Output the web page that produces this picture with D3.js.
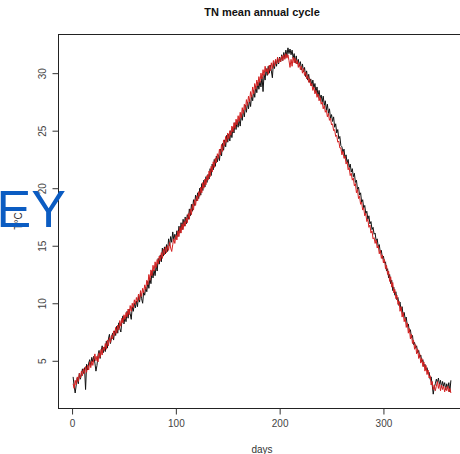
<!DOCTYPE html>
<html>
  <head>
    <script src="https://cdn.jsdelivr.net/npm/d3@7"></script>
    <style>
      body { margin: 0; background: #fff; }
      text { font-family: "Liberation Sans", Arial, sans-serif; }
    </style>
  </head>
  <body>
    <svg width="460" height="454"></svg>

    <script type="text/javascript">
      // TN mean annual cycle, one value per day (1..365)
      var blackSeries = [
        3.6, 2.8, 2.2, 2.9, 3.5, 3.0, 3.9, 3.4, 3.8, 4.3,
        3.9, 4.4, 2.5, 4.7, 4.2, 4.8, 5.1, 4.6, 5.3, 4.9,
        5.4, 4.8, 4.1, 4.6, 5.5, 5.9, 5.2, 5.8, 6.3, 5.7,
        6.2, 5.8, 6.7, 6.1, 6.9, 7.3, 6.5, 7.0, 7.4, 6.8,
        7.6, 7.2, 8.0, 7.4, 8.3, 7.8, 7.5, 8.4, 8.9, 8.2,
        8.8, 8.4, 9.3, 8.7, 9.5, 9.1, 8.6, 9.7, 9.3, 10.0,
        9.6, 10.2, 9.7, 10.6, 10.1, 10.9, 10.4, 10.0, 11.0, 10.7,
        11.4, 11.0, 11.9, 11.3, 12.2, 11.7, 12.8, 12.2, 12.9, 12.4,
        13.3, 12.8, 13.9, 13.4, 14.2, 13.6, 14.8, 14.1, 14.9, 14.3,
        15.1, 14.5, 15.6, 15.0, 15.8, 15.3, 16.2, 15.5, 16.0, 15.6,
        16.3, 15.8, 16.7, 16.1, 17.0, 16.4, 17.3, 16.7, 17.5, 16.9,
        17.7, 17.3, 18.2, 17.6, 18.6, 18.0, 19.0, 18.5, 19.4, 18.9,
        19.6, 19.1, 20.0, 19.4, 20.4, 19.8, 20.7, 20.1, 21.0, 20.5,
        21.2, 20.8, 21.7, 21.1, 22.1, 21.6, 22.5, 21.9, 22.8, 22.3,
        22.9, 22.4, 23.4, 22.8, 23.9, 23.3, 24.2, 23.6, 24.6, 24.0,
        24.7, 24.1, 25.0, 24.4, 25.3, 24.8, 25.7, 25.1, 25.9, 25.3,
        26.0, 25.4, 26.4, 25.9, 26.8, 26.2, 27.2, 26.6, 27.5, 26.9,
        27.7, 27.1, 28.1, 27.6, 28.5, 27.9, 28.9, 28.3, 29.2, 28.6,
        29.3, 28.8, 29.7, 28.4, 29.9, 29.4, 30.4, 29.8, 30.6, 30.0,
        30.7, 30.2, 29.6, 30.9, 30.4, 31.1, 30.6, 31.3, 30.8, 31.4,
        31.0, 31.6, 31.1, 31.8, 31.3, 32.0, 31.5, 32.2, 31.7, 32.1,
        31.6, 32.0, 31.3, 31.7, 30.9, 31.5, 30.8, 31.2, 30.6, 31.0,
        30.3, 30.8, 30.1, 30.5, 29.7, 30.2, 29.4, 29.9, 29.2, 29.5,
        28.9, 29.4, 28.7, 29.1, 28.3, 28.8, 28.0, 28.5, 27.8, 28.1,
        27.5, 28.0, 27.2, 27.6, 26.8, 27.3, 26.5, 26.9, 26.1, 26.4,
        25.8, 26.2, 25.3, 25.6, 24.8, 25.1, 24.3, 24.5, 23.7, 23.6,
        23.1, 23.4, 22.6, 22.9, 22.2, 22.5, 21.8, 22.1, 21.4, 21.7,
        21.0, 21.3, 20.5, 20.7, 19.9, 20.1, 19.4, 19.6, 18.8, 19.0,
        18.3, 18.5, 17.8, 18.0, 17.3, 17.6, 16.9, 17.1, 16.4, 16.6,
        16.0, 16.1, 15.4, 15.6, 14.9, 15.1, 14.4, 14.6, 13.9, 14.1,
        13.5, 13.6, 12.8, 13.0, 12.2, 12.5, 11.7, 12.0, 11.1, 11.4,
        10.7, 11.0, 10.3, 10.5, 9.8, 10.1, 9.4, 9.7, 8.9, 9.2,
        8.6, 8.8, 8.0, 8.2, 7.5, 7.7, 7.0, 7.2, 6.4, 6.6,
        6.1, 6.3, 5.7, 5.9, 5.3, 5.5, 4.9, 5.1, 4.5, 4.7,
        4.2, 4.4, 3.9, 4.0, 3.4, 3.6, 2.9, 2.1, 2.7, 3.0,
        3.4, 3.1, 3.5, 2.9, 3.3, 2.7, 3.2, 2.8, 3.1, 2.5,
        3.0, 2.6, 3.1, 2.3, 3.3
      ];

      var redSeries = [
        3.0, 2.6, 3.3, 2.9, 3.6, 3.2, 3.9, 3.5, 4.1, 3.7,
        4.3, 3.9, 4.5, 4.0, 4.6, 4.2, 4.9, 4.4, 5.0, 4.6,
        5.2, 5.6, 5.0, 5.4, 4.9, 5.7, 5.3, 6.0, 5.5, 6.2,
        5.9, 6.5, 6.0, 6.8, 6.3, 7.0, 6.6, 7.2, 6.9, 7.6,
        7.2, 7.9, 7.4, 8.1, 7.7, 8.5, 8.0, 8.7, 8.3, 9.0,
        8.6, 9.2, 8.8, 9.5, 9.0, 9.8, 9.3, 10.0, 9.6, 10.3,
        9.9, 10.5, 10.1, 10.8, 10.3, 11.1, 10.6, 11.3, 10.9, 11.6,
        11.2, 12.0, 11.6, 12.5, 12.0, 12.9, 12.4, 13.3, 12.8, 13.6,
        13.1, 13.8, 13.4, 14.1, 13.7, 14.4, 13.9, 14.7, 14.2, 14.9,
        14.4, 15.0, 14.6, 15.3, 14.8, 14.5, 15.1, 15.6, 15.2, 15.9,
        15.5, 16.3, 15.8, 16.6, 16.1, 16.9, 16.4, 17.1, 16.7, 17.4,
        17.0, 17.8, 17.3, 18.2, 17.7, 18.6, 18.1, 19.0, 18.5, 19.3,
        18.9, 19.7, 19.3, 20.1, 19.6, 20.5, 20.0, 20.8, 20.3, 21.1,
        20.7, 21.5, 21.0, 21.9, 21.4, 22.3, 21.8, 22.6, 22.2, 23.0,
        22.6, 23.4, 22.9, 23.8, 23.2, 24.2, 23.7, 24.5, 24.0, 24.8,
        24.3, 25.0, 24.6, 25.4, 24.9, 25.7, 25.2, 26.0, 25.5, 26.3,
        25.8, 26.6, 26.1, 27.0, 26.5, 27.3, 26.8, 27.7, 27.2, 28.0,
        27.5, 28.4, 27.9, 28.8, 28.2, 29.1, 28.6, 29.4, 28.9, 29.7,
        29.2, 30.0, 29.5, 30.3, 29.8, 30.6, 30.1, 30.4, 29.9, 30.7,
        30.2, 30.9, 30.4, 31.1, 30.6, 31.2, 30.8, 31.4, 30.9, 31.3,
        31.0, 31.5, 31.1, 31.6, 31.2, 31.7, 31.3, 31.6, 31.1, 30.5,
        31.2, 30.6, 31.4, 30.9, 31.3, 30.8, 31.1, 30.5, 30.9, 30.3,
        30.6, 30.0, 30.4, 29.8, 30.1, 29.5, 29.8, 29.2, 29.5, 28.9,
        29.1, 28.5, 28.8, 28.2, 28.5, 27.9, 28.2, 27.6, 27.9, 27.3,
        27.5, 26.9, 27.2, 26.6, 26.8, 26.2, 26.5, 25.9, 26.1, 25.5,
        25.6, 25.0, 25.1, 24.5, 24.6, 24.0, 24.1, 23.5, 23.5, 22.9,
        23.2, 22.6, 22.8, 22.1, 22.3, 21.6, 21.8, 21.1, 21.3, 20.7,
        20.9, 20.2, 20.4, 19.6, 19.9, 19.1, 19.3, 18.6, 18.8, 18.1,
        18.3, 17.6, 17.8, 17.1, 17.3, 16.6, 16.8, 16.1, 16.3, 15.6,
        15.7, 15.2, 15.5, 14.8, 15.0, 14.3, 14.6, 13.9, 14.2, 13.5,
        13.8, 13.0, 13.3, 12.5, 12.8, 11.9, 12.3, 11.4, 11.8, 10.9,
        11.2, 10.4, 10.7, 9.9, 10.2, 9.3, 9.7, 8.8, 9.2, 8.4,
        8.7, 7.9, 8.3, 7.4, 7.8, 6.9, 7.3, 6.5, 6.8, 6.0,
        6.4, 5.6, 6.0, 5.2, 5.6, 4.8, 5.2, 4.5, 4.9, 4.1,
        4.6, 3.8, 4.2, 3.5, 3.7, 2.9, 3.2, 2.5, 2.9, 2.4,
        2.8, 3.2, 2.6, 3.0, 2.4, 2.9, 2.5, 2.8, 2.3, 2.7,
        2.4, 2.8, 2.3, 2.6, 2.2
      ];

      var xTicks = [0, 100, 200, 300];
      var yTicks = [5, 10, 15, 20, 25, 30];

      var svg = d3.select("svg");
      var plotLeft = 58,
        plotRight = 466,
        plotTop = 34,
        plotBottom = 408;

      // R style axis range: data extent padded by 4%
      var days = blackSeries.map((d, i) => i + 1);
      var xExt = d3.extent(days);
      var xPad = (xExt[1] - xExt[0]) * 0.04;
      var xScale = d3
        .scaleLinear()
        .domain([xExt[0] - xPad, xExt[1] + xPad])
        .range([plotLeft, plotRight]);

      var yExt = d3.extent(blackSeries.concat(redSeries));
      var yPad = (yExt[1] - yExt[0]) * 0.04;
      var yScale = d3
        .scaleLinear()
        .domain([yExt[0] - yPad, yExt[1] + yPad])
        .range([plotBottom, plotTop]);

      var lineGenerator = d3
        .line()
        .x((d, i) => xScale(i + 1))
        .y((d) => yScale(d));

      svg
        .append("path")
        .attr("fill", "none")
        .attr("stroke", "#111")
        .attr("stroke-width", 1)
        .attr("d", lineGenerator(blackSeries));

      svg
        .append("path")
        .attr("fill", "none")
        .attr("stroke", "#d42020")
        .attr("stroke-width", 1)
        .attr("d", lineGenerator(redSeries));

      // box
      svg
        .append("rect")
        .attr("x", plotLeft + 0.5)
        .attr("y", plotTop + 0.5)
        .attr("width", plotRight - plotLeft)
        .attr("height", plotBottom - plotTop)
        .attr("fill", "none")
        .attr("stroke", "#222")
        .attr("stroke-width", 1);

      var xAxis = d3.axisBottom(xScale).tickValues(xTicks).tickSize(6).tickPadding(5);
      var gx = svg
        .append("g")
        .attr("transform", "translate(0," + (plotBottom + 0.5) + ")")
        .call(xAxis);
      gx.select(".domain").remove();
      gx.selectAll("line").attr("stroke", "#333");
      gx.selectAll("text")
        .attr("font-size", 10)
        .attr("fill", "#444")
        .style("font-family", "'Liberation Sans', Arial, sans-serif");

      var yAxis = d3.axisLeft(yScale).tickValues(yTicks).tickSize(6);
      var gy = svg
        .append("g")
        .attr("transform", "translate(" + (plotLeft + 0.5) + ",0)")
        .call(yAxis);
      gy.select(".domain").remove();
      gy.selectAll("line").attr("stroke", "#333");
      gy.selectAll("text")
        .attr("font-size", 10)
        .attr("fill", "#444")
        .attr("x", 0)
        .attr("dy", 0)
        .attr("text-anchor", "middle")
        .attr("transform", "translate(-13,0) rotate(-90)")
        .style("font-family", "'Liberation Sans', Arial, sans-serif");

      svg
        .append("text")
        .attr("x", (plotLeft + plotRight) / 2)
        .attr("y", 16)
        .attr("text-anchor", "middle")
        .attr("font-size", 11)
        .attr("font-weight", "bold")
        .attr("fill", "#111")
        .text("TN mean annual cycle");

      svg
        .append("text")
        .attr("x", (plotLeft + plotRight) / 2)
        .attr("y", 453)
        .attr("text-anchor", "middle")
        .attr("font-size", 10)
        .attr("fill", "#333")
        .text("days");

      svg
        .append("text")
        .attr("transform", "translate(22," + (plotTop + plotBottom) / 2 + ") rotate(-90)")
        .attr("text-anchor", "middle")
        .attr("font-size", 10)
        .attr("fill", "#333")
        .text("T°C");

      // overlaid blue watermark fragment
      svg
        .append("text")
        .attr("x", 66)
        .attr("y", 227)
        .attr("text-anchor", "end")
        .attr("font-size", 52)
        .attr("fill", "#0b5cc2")
        .text("LEY");
    </script>
  </body>
</html>
